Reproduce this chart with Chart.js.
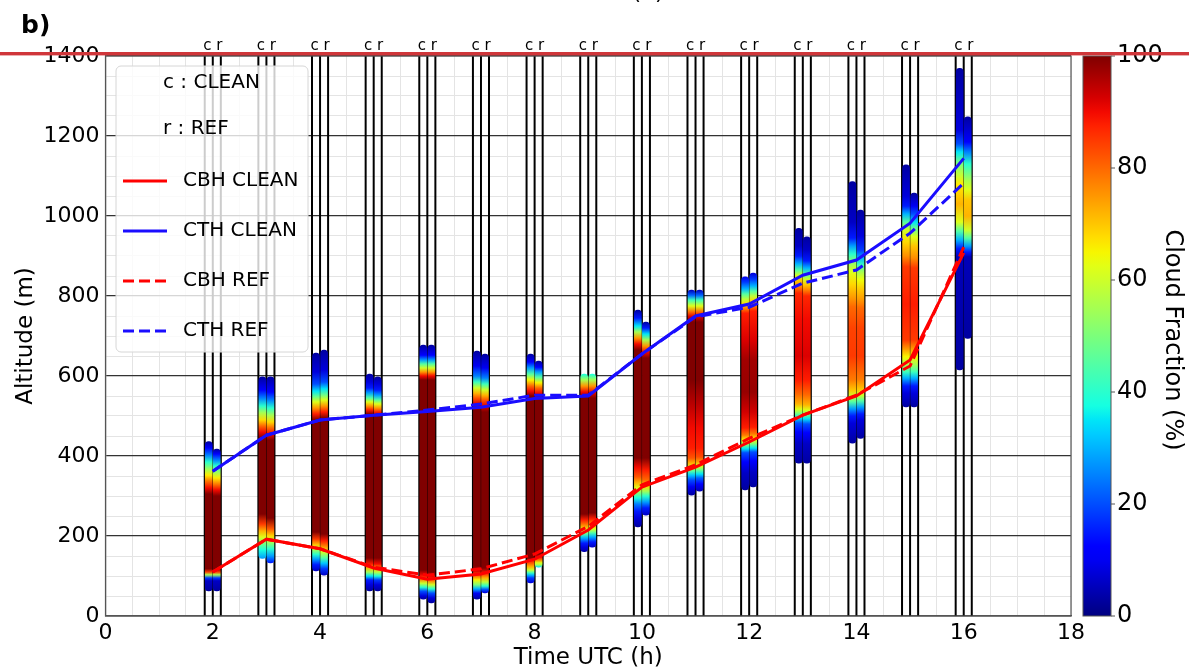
<!DOCTYPE html>
<html>
<head>
<meta charset="utf-8">
<script src="https://cdn.jsdelivr.net/npm/chart.js@4.4.1/dist/chart.umd.min.js"></script>
<style>
  html, body { margin: 0; padding: 0; background: #fff; }
  canvas { display: block; }
</style>
</head>
<body>
<canvas id="cloud-chart" width="1189" height="672"></canvas>
<script>
// hours of the simulation output (UTC)
const hours = [2, 3, 4, 5, 6, 7, 8, 9, 10, 11, 12, 13, 14, 15, 16];

// cloud base / top heights (m)
const cbhClean = [110, 192, 168, 120, 92, 105, 142, 215, 322, 372, 435, 502, 550, 640, 908];
const cthClean = [362, 452, 490, 502, 511, 522, 544, 550, 655, 750, 780, 852, 890, 982, 1144];
const cbhRef = [110, 192, 168, 122, 102, 118, 155, 224, 328, 378, 444, 502, 552, 625, 922];
const cthRef = [362, 452, 490, 502, 515, 530, 552, 552, 655, 748, 772, 832, 865, 957, 1082];

// cloud fraction profiles, [altitude m, cloud fraction %], one list per hour
const profClean = [
  [[63,3],[88,6],[95,18],[103,55],[110,85],[118,100],[305,100],[320,90],[338,78],[352,66],[366,55],[385,40],[402,25],[420,12],[436,3]],
  [[144,28],[165,38],[182,50],[197,62],[212,72],[230,85],[255,100],[445,100],[460,90],[475,80],[490,68],[508,55],[525,40],[545,25],[565,12],[598,3]],
  [[113,6],[128,15],[142,28],[154,40],[166,55],[178,70],[192,85],[210,100],[490,100],[505,88],[520,75],[535,62],[548,48],[562,35],[580,20],[610,8],[657,3]],
  [[63,3],[78,8],[90,15],[100,35],[110,55],[120,72],[130,88],[145,100],[505,100],[515,88],[525,75],[535,62],[545,45],[558,28],[570,15],[585,8],[605,3]],
  [[42,3],[50,8],[62,20],[72,40],[82,60],[92,78],[102,90],[115,100],[590,100],[600,90],[610,75],[620,60],[630,45],[640,28],[652,12],[677,3]],
  [[42,3],[57,10],[68,30],[78,50],[90,65],[100,80],[112,92],[125,100],[515,100],[530,92],[545,82],[557,72],[570,60],[585,42],[600,25],[625,10],[662,3]],
  [[83,8],[95,18],[102,30],[108,42],[115,60],[123,72],[135,85],[145,100],[550,100],[562,90],[575,80],[590,65],[605,45],[620,28],[635,12],[655,3]],
  [[161,4],[172,8],[182,15],[195,30],[205,45],[215,62],[225,75],[240,88],[255,100],[545,100],[560,90],[575,75],[590,55],[605,38]],
  [[223,3],[245,8],[262,15],[280,25],[295,38],[307,50],[320,62],[333,72],[348,82],[372,90],[395,100],[665,100],[680,90],[695,75],[710,55],[725,35],[745,15],[765,3]],
  [[302,3],[323,10],[340,20],[352,32],[362,45],[372,60],[382,72],[395,82],[420,88],[470,90],[530,95],[590,100],[735,100],[748,92],[760,80],[775,62],[790,42],[802,22],[815,5]],
  [[315,3],[357,6],[385,12],[408,20],[418,35],[428,50],[440,65],[452,78],[470,88],[510,93],[560,98],[640,97],[690,92],[757,88],[768,78],[780,68],[792,58],[805,45],[818,30],[835,18],[848,10]],
  [[382,3],[432,6],[460,12],[482,20],[495,35],[507,50],[517,62],[530,72],[555,80],[590,88],[650,92],[740,90],[807,87],[822,78],[838,70],[852,60],[865,45],[880,30],[900,15],[925,6],[969,3]],
  [[432,3],[482,8],[500,15],[518,28],[535,45],[550,60],[565,70],[590,78],[650,85],[720,84],[773,80],[795,75],[830,68],[860,62],[885,52],[905,40],[925,28],[945,15],[985,6],[1086,3]],
  [[523,3],[557,8],[575,15],[595,30],[610,42],[628,55],[648,65],[668,75],[690,85],[780,88],[873,85],[900,76],[935,68],[965,60],[985,45],[1005,30],[1025,15],[1050,8],[1128,3]],
  [[615,3],[898,5],[918,15],[940,30],[962,45],[985,62],[1030,72],[1080,66],[1105,58],[1135,48],[1160,35],[1180,20],[1215,8],[1369,3]]
];
const profRef = [
  [[63,3],[88,6],[95,18],[103,55],[110,85],[118,100],[300,100],[315,90],[330,78],[345,66],[358,55],[375,40],[390,25],[405,12],[417,3]],
  [[133,15],[150,28],[168,40],[185,55],[200,68],[218,82],[245,100],[440,100],[455,90],[470,80],[485,68],[502,55],[520,40],[540,25],[560,12],[598,3]],
  [[102,6],[118,18],[132,32],[145,45],[160,60],[172,75],[188,88],[205,100],[495,100],[510,88],[525,75],[540,62],[553,48],[568,35],[585,20],[615,8],[665,3]],
  [[63,3],[78,8],[90,18],[100,38],[110,58],[120,75],[130,90],[145,100],[500,100],[510,88],[520,75],[530,62],[540,45],[552,28],[565,15],[580,8],[598,3]],
  [[33,3],[45,8],[57,20],[68,40],[78,60],[88,78],[98,90],[110,100],[590,100],[600,90],[610,75],[620,60],[630,45],[640,28],[652,12],[677,3]],
  [[58,8],[66,20],[75,40],[85,58],[95,72],[107,88],[120,100],[510,100],[525,92],[540,82],[552,72],[565,60],[580,42],[595,25],[620,10],[655,3]],
  [[122,35],[128,55],[133,62],[140,78],[147,90],[155,100],[545,100],[557,90],[570,80],[583,65],[597,45],[610,28],[622,12],[637,3]],
  [[172,6],[185,15],[198,30],[208,45],[218,62],[228,75],[243,88],[258,100],[545,100],[560,90],[575,75],[590,55],[605,38]],
  [[252,6],[270,15],[285,28],[300,40],[312,55],[325,68],[340,80],[365,88],[395,100],[645,100],[660,90],[675,75],[690,55],[705,35],[720,15],[735,3]],
  [[312,5],[330,12],[345,22],[355,35],[365,48],[375,62],[385,74],[398,83],[420,88],[470,90],[530,95],[590,100],[735,100],[748,92],[760,80],[775,62],[790,42],[802,22],[815,5]],
  [[323,3],[360,6],[388,12],[410,20],[420,35],[430,50],[442,65],[455,78],[472,88],[510,93],[560,98],[640,97],[690,92],[762,88],[775,78],[788,68],[800,58],[812,45],[825,30],[842,18],[857,8]],
  [[382,3],[430,6],[458,12],[480,20],[493,35],[505,50],[515,62],[528,72],[553,80],[590,88],[650,92],[740,90],[800,87],[814,78],[828,70],[842,60],[855,45],[870,30],[888,15],[915,6],[948,3]],
  [[444,3],[490,8],[505,15],[522,28],[538,45],[552,60],[567,70],[592,78],[650,85],[720,84],[770,80],[790,75],[815,70],[840,64],[860,55],[878,42],[895,30],[915,18],[950,8],[1015,3]],
  [[523,3],[557,8],[575,15],[595,30],[610,42],[628,55],[648,65],[668,75],[690,85],[780,88],[870,85],[895,76],[925,70],[948,62],[965,50],[985,35],[1005,20],[1025,10],[1057,3]],
  [[694,3],[898,5],[910,15],[925,28],[945,45],[965,60],[1000,72],[1040,70],[1065,62],[1090,55],[1130,40],[1160,25],[1185,12],[1248,3]]
];

const cfTicks = [0, 20, 40, 60, 80, 100];
const legendNotes = ['c : CLEAN', 'r : REF'];

// matplotlib jet colormap, v in 0..1
function jet(v) {
    function lin(pts) {
        for (let i = 1; i < pts.length; i++) {
            if (v <= pts[i][0]) {
                let t = (v - pts[i - 1][0]) / (pts[i][0] - pts[i - 1][0]);
                return pts[i - 1][1] + t * (pts[i][1] - pts[i - 1][1]);
            }
        }
        return pts[pts.length - 1][1];
    }
    let r = lin([[0, 0], [0.35, 0], [0.66, 1], [0.89, 1], [1, 0.5]]);
    let g = lin([[0, 0], [0.125, 0], [0.375, 1], [0.64, 1], [0.91, 0], [1, 0]]);
    let b = lin([[0, 0.5], [0.11, 1], [0.34, 1], [0.65, 0], [1, 0]]);
    return `rgb(${Math.round(r * 255)},${Math.round(g * 255)},${Math.round(b * 255)})`;
}

// gradient fill for one column, built from its profile
function columnFill(profiles) {
    return function (c) {
        let chart = c.chart;
        if (!chart.chartArea || c.dataIndex === undefined) return 'rgba(0,0,0,0)';
        let prof = profiles[c.dataIndex];
        let y = chart.scales.y;
        let lo = prof[0][0], hi = prof[prof.length - 1][0];
        let g = chart.ctx.createLinearGradient(0, y.getPixelForValue(lo), 0, y.getPixelForValue(hi));
        prof.forEach(p => g.addColorStop((p[0] - lo) / (hi - lo), jet(p[1] / 100)));
        return g;
    };
}

function columnData(profiles, shift) {
    return hours.map((h, i) => ({ x: h + shift, y: [profiles[i][0][0], profiles[i][profiles[i].length - 1][0]] }));
}

// black separator lines around each pair of columns
let separators = [];
hours.forEach(h => {
    [-0.15, 0, 0.15].forEach(off => {
        separators.push({ x: h + off, y: 0 }, { x: h + off, y: 1400 }, { x: h + off, y: null });
    });
});

function series(values) {
    return hours.map((h, i) => ({ x: h, y: values[i] }));
}

const overlay = {
    id: 'overlay',
    afterDatasetsDraw(chart) {
        let ctx = chart.ctx;
        let a = chart.chartArea;
        ctx.save();
        // frame
        ctx.strokeStyle = '#555';
        ctx.lineWidth = 1.2;
        ctx.strokeRect(a.left, a.top, a.right - a.left, a.bottom - a.top);

        // legend box inside the plot
        let bx = a.left + 10.5, by = a.top + 10, bw = 192, bh = 286;
        ctx.beginPath();
        ctx.roundRect(bx, by, bw, bh, 5);
        ctx.fillStyle = 'rgba(255,255,255,0.8)';
        ctx.fill();
        ctx.strokeStyle = '#d6d6d6';
        ctx.lineWidth = 1;
        ctx.stroke();

        ctx.font = '20px "DejaVu Sans"';
        ctx.fillStyle = '#000';
        ctx.textBaseline = 'middle';
        ctx.textAlign = 'left';
        legendNotes.forEach((t, i) => ctx.fillText(t, a.left + 57.5, a.top + 27 + i * 46));

        let lineSets = chart.data.datasets.filter(d => d.inLegend);
        lineSets.forEach((d, i) => {
            let yy = a.top + 125 + i * 50;
            ctx.beginPath();
            ctx.setLineDash(d.borderDash || []);
            ctx.strokeStyle = d.borderColor;
            ctx.lineWidth = 3;
            ctx.moveTo(a.left + 17.5, yy);
            ctx.lineTo(a.left + 61.5, yy);
            ctx.stroke();
            ctx.setLineDash([]);
            ctx.fillText(d.label, a.left + 77.5, yy);
        });
        ctx.restore();
    },
    afterDraw(chart) {
        let ctx = chart.ctx;
        let a = chart.chartArea;
        let x = chart.scales.x;
        ctx.save();

        // c / r markers above each pair
        ctx.font = '15px "DejaVu Sans"';
        ctx.fillStyle = '#000';
        ctx.textAlign = 'center';
        ctx.textBaseline = 'alphabetic';
        hours.forEach(h => ctx.fillText('c r', x.getPixelForValue(h), a.top - 6));

        // colorbar
        let cx = a.right + 12, cw = 28;
        let g = ctx.createLinearGradient(0, a.bottom, 0, a.top);
        for (let i = 0; i <= 40; i++) g.addColorStop(i / 40, jet(i / 40));
        ctx.fillStyle = g;
        ctx.fillRect(cx, a.top, cw, a.bottom - a.top);
        ctx.strokeStyle = '#555';
        ctx.lineWidth = 1;
        ctx.strokeRect(cx, a.top, cw, a.bottom - a.top);
        ctx.font = '24px "DejaVu Sans"';
        ctx.textAlign = 'left';
        ctx.textBaseline = 'middle';
        ctx.fillStyle = '#000';
        cfTicks.forEach(v => {
            let yy = a.bottom - v / 100 * (a.bottom - a.top);
            ctx.beginPath();
            ctx.moveTo(cx + cw, yy);
            ctx.lineTo(cx + cw + 4, yy);
            ctx.stroke();
            ctx.fillText(String(v), cx + cw + 6, yy);
        });
        ctx.save();
        ctx.translate(1172, 340);
        ctx.rotate(Math.PI / 2);
        ctx.textAlign = 'center';
        ctx.fillText('Cloud Fraction (%)', 0, 0);
        ctx.restore();

        // panel letter and the clipped caption above
        ctx.font = 'bold 25px "DejaVu Sans"';
        ctx.textAlign = 'left';
        ctx.textBaseline = 'alphabetic';
        ctx.fillText('b)', 21, 33);
        ctx.font = '22px "DejaVu Sans"';
        ctx.textAlign = 'center';
        ctx.fillText('(b)', 648, -1);

        // red rule across the top
        ctx.fillStyle = 'rgb(208,54,58)';
        ctx.fillRect(0, 52, 1189, 3.4);
        ctx.restore();
    }
};

Chart.defaults.font.family = '"DejaVu Sans"';
Chart.defaults.color = '#000';

new Chart(document.getElementById('cloud-chart'), {
    type: 'line',
    data: {
        datasets: [
            { label: 'CBH CLEAN', inLegend: true, data: series(cbhClean), borderColor: '#ff0000', borderWidth: 3, pointRadius: 0, order: 0 },
            { label: 'CTH CLEAN', inLegend: true, data: series(cthClean), borderColor: '#1a0dff', borderWidth: 3, pointRadius: 0, order: 0 },
            { label: 'CBH REF', inLegend: true, data: series(cbhRef), borderColor: '#ff0000', borderWidth: 3, borderDash: [11, 5], pointRadius: 0, order: 0 },
            { label: 'CTH REF', inLegend: true, data: series(cthRef), borderColor: '#1a0dff', borderWidth: 3, borderDash: [11, 5], pointRadius: 0, order: 0 },
            { type: 'bar', label: 'c', data: columnData(profClean, -0.075), backgroundColor: columnFill(profClean),
              barThickness: 7, borderRadius: 3.5, borderSkipped: false, borderWidth: 0, grouped: false, order: 1 },
            { type: 'bar', label: 'r', data: columnData(profRef, 0.075), backgroundColor: columnFill(profRef),
              barThickness: 7, borderRadius: 3.5, borderSkipped: false, borderWidth: 0, grouped: false, order: 1 },
            { label: 'sep', data: separators, borderColor: '#000', borderWidth: 2, pointRadius: 0, spanGaps: false, order: 2 }
        ]
    },
    options: {
        responsive: false,
        animation: false,
        devicePixelRatio: 1,
        layout: { padding: { left: 0, right: 118, top: 56, bottom: 0 } },
        plugins: { legend: { display: false }, tooltip: { enabled: false } },
        scales: {
            x: {
                type: 'linear', min: 0, max: 18, offset: false,
                afterFit: s => { s.height = 56; },
                ticks: {
                    stepSize: 0.5, autoSkip: false, maxRotation: 0, padding: 4,
                    font: { size: 22 },
                    callback: v => (v % 2 === 0 ? v : '')
                },
                grid: { offset: false, drawTicks: false, color: '#e4e4e4', lineWidth: 1 },
                border: { color: '#555', width: 1.2 },
                title: { display: true, text: 'Time UTC (h)', font: { size: 23 }, padding: { top: 0, bottom: 0 } }
            },
            y: {
                min: 0, max: 1400,
                afterFit: s => { s.width = 105.5; },
                ticks: {
                    stepSize: 50, autoSkip: false, padding: 6,
                    font: { size: 22 },
                    callback: v => (v % 200 === 0 ? v : '')
                },
                grid: {
                    drawTicks: false,
                    color: c => (c.tick && c.tick.value % 200 === 0 ? '#333' : '#e4e4e4'),
                    lineWidth: c => (c.tick && c.tick.value % 200 === 0 ? 1.2 : 1)
                },
                border: { color: '#555', width: 1.2 },
                title: { display: true, text: 'Altitude (m)', font: { size: 23 }, padding: { top: 12, bottom: 0 } }
            }
        }
    },
    plugins: [overlay]
});
</script>
</body>
</html>
